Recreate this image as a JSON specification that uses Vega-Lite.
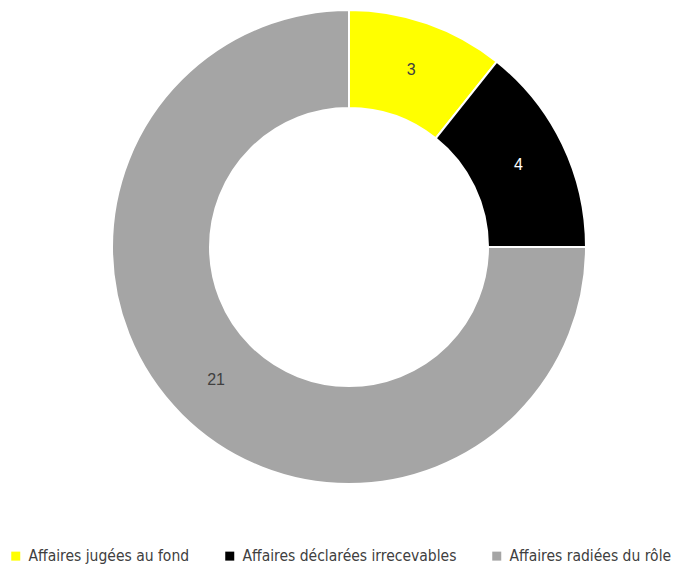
{
  "$schema": "https://vega.github.io/schema/vega-lite/v6.json",
  "autosize": "none",
  "width": 686,
  "height": 494,
  "padding": {"left": 6, "top": 0, "right": 1, "bottom": 73},
  "background": "white",
  "data": {
    "values": [
      {"categorie": "Affaires jugées au fond", "nombre": 3, "ordre": 1},
      {"categorie": "Affaires déclarées irrecevables", "nombre": 4, "ordre": 2},
      {"categorie": "Affaires radiées du rôle", "nombre": 21, "ordre": 3}
    ]
  },
  "encoding": {
    "theta": {"field": "nombre", "type": "quantitative", "stack": true},
    "order": {"field": "ordre", "type": "quantitative"}
  },
  "layer": [
    {
      "mark": {"type": "arc", "outerRadius": 237, "innerRadius": 139, "stroke": "white", "strokeWidth": 2},
      "encoding": {
        "color": {
          "field": "categorie",
          "type": "nominal",
          "scale": {
            "domain": ["Affaires jugées au fond", "Affaires déclarées irrecevables", "Affaires radiées du rôle"],
            "range": ["#FFFF00", "#000000", "#A5A5A5"]
          },
          "legend": {
            "title": null,
            "orient": "none",
            "direction": "horizontal",
            "legendX": 2,
            "legendY": 548,
            "symbolType": "square",
            "symbolSize": 81,
            "symbolStrokeWidth": 0,
            "labelFont": "DejaVu Sans Condensed",
            "labelFontSize": 15.5,
            "labelColor": "#404040",
            "labelOffset": 5,
            "columnPadding": 32,
            "labelLimit": 400
          }
        }
      }
    },
    {
      "mark": {"type": "text", "radius": 188, "font": "Liberation Sans, sans-serif", "fontSize": 16},
      "encoding": {
        "text": {"field": "nombre", "type": "quantitative"},
        "color": {
          "condition": {"test": "datum.categorie === 'Affaires déclarées irrecevables'", "value": "white"},
          "value": "#404040"
        }
      }
    }
  ]
}
